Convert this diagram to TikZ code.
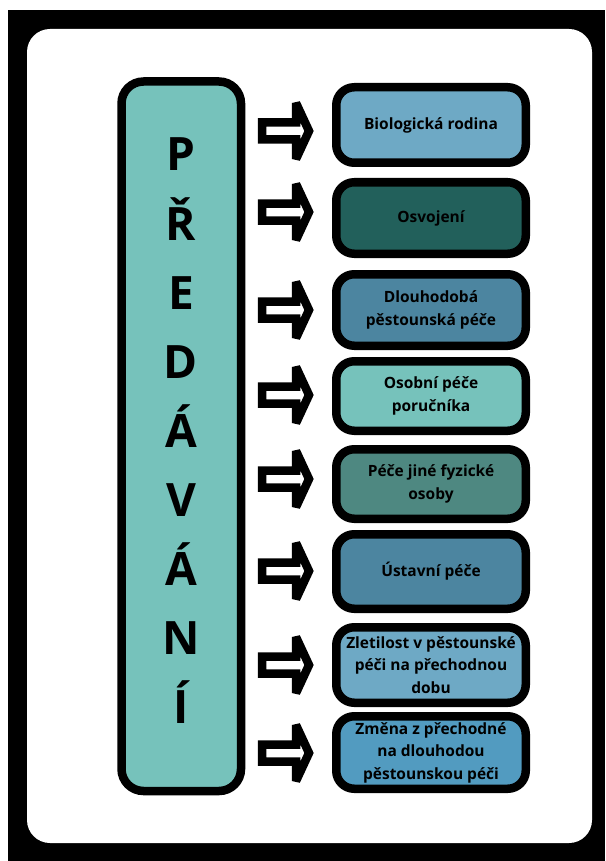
\documentclass[tikz,border=0pt]{standalone}
\usepackage{fontspec}
\setmainfont{Open Sans}
\definecolor{tealc}{HTML}{76C2BB}
\definecolor{skyc}{HTML}{6EA9C5}
\definecolor{deepc}{HTML}{22605B}
\definecolor{steelc}{HTML}{4C85A0}
\definecolor{sagec}{HTML}{4E8881}
\definecolor{bluec}{HTML}{529BC0}
\tikzset{
  card/.style={fill=white, rounded corners=23pt},
  pillar/.style={draw=black, fill=tealc, line width=8.5pt, rounded corners=22pt,
                 minimum width=119.5pt, minimum height=709.5pt, inner sep=0pt},
  letter/.style={font=\fontsize{46}{46}\selectfont\bfseries, inner sep=0pt, anchor=base},
  item/.style={draw=black, line width=8.5pt, rounded corners=18pt, minimum width=189.5pt,
               inner sep=0pt, align=center, font=\fontsize{15.5}{22.5}\selectfont\bfseries},
  blockarr/.style={draw=black, fill=white, line width=8.5pt, miter limit=4},
}

\begin{document}
\begin{tikzpicture}[x=1pt, y=-1pt]
\useasboundingbox (0,0) rectangle (605,861);
\fill[white] (0,0) rectangle (605,861);
\fill[black] (8,10) rectangle (605,861);
\fill[card] (27,29) rectangle (592,843);

% the pillar, one letter under the other
\node[pillar] (pred) at (181.25,436.25) {};
\foreach \ch [count=\i from 0] in {P,Ř,E,D,Á,V,Á,N,Í} {
  \node[letter] (ch\i) at (181,{171+69*\i}) {\ch};
}

% the ways of handing over
\node[item, fill=skyc, minimum height=75.5pt] (bio) at (431,125) {Biologická rodina};
\node[item, fill=deepc, minimum height=71.5pt] (osv) at (431,218) {Osvojení};
\node[item, fill=steelc, minimum height=71.5pt] (dlou) at (431,310) {Dlouhodobá\\pěstounská péče};
\node[item, fill=tealc, minimum height=69.5pt] (poru) at (431,396) {Osobní péče\\poručníka};
\node[item, fill=sagec, minimum height=69.5pt] (fyz) at (431,484) {Péče jiné fyzické\\osoby};
\node[item, fill=steelc, minimum height=74.5pt] (ust) at (431,571.5) {Ústavní péče};
\node[item, fill=skyc, minimum height=75.5pt] (zlet) at (431,665) {Zletilost v pěstounské\\péči na přechodnou\\dobu};
\node[item, fill=bluec, minimum height=72.5pt] (zmena) at (431,752.5) {Změna z přechodné\\na dlouhodou\\pěstounskou péči};

% block arrows
\foreach \y in {131,212,310,395,479,571,665,753} {
  \draw[blockarr] (262,{\y-8.5}) -- (296,{\y-8.5}) -- (296,{\y-28}) -- (309,\y)
    -- (296,{\y+28}) -- (296,{\y+8.5}) -- (262,{\y+8.5}) -- cycle;
}
\end{tikzpicture}
\end{document}
